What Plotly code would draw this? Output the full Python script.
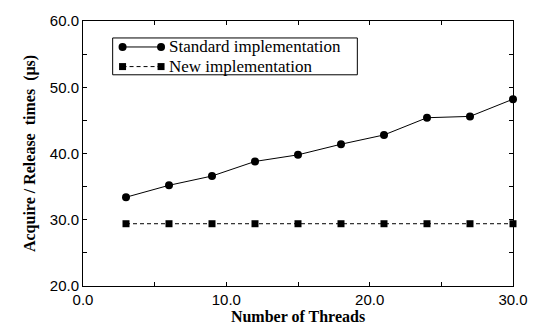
import plotly.graph_objects as go

threads = [3, 6, 9, 12, 15, 18, 21, 24, 27, 30]
standard = [33.4, 35.2, 36.6, 38.8, 39.8, 41.4, 42.8, 45.4, 45.6, 48.2]
new_impl = [29.4, 29.4, 29.4, 29.4, 29.4, 29.4, 29.4, 29.4, 29.4, 29.4]
series_names = ["Standard implementation", "New implementation"]

SERIF = "Liberation Serif, Times New Roman, serif"
SANS = "Liberation Sans, Arial, sans-serif"

fig = go.Figure()
fig.add_trace(go.Scatter(
    x=threads, y=standard, mode="lines+markers", name=series_names[0],
    line=dict(color="black", width=1),
    marker=dict(symbol="circle", size=8, color="black"),
    cliponaxis=False, showlegend=False,
))
fig.add_trace(go.Scatter(
    x=threads, y=new_impl, mode="lines+markers", name=series_names[1],
    line=dict(color="black", width=1, dash="4px,3px"),
    marker=dict(symbol="square", size=7, color="black"),
    cliponaxis=False, showlegend=False,
))

axis_common = dict(
    showline=True, linecolor="black", linewidth=1, mirror="ticks",
    ticks="inside", ticklen=4, tickcolor="black", tickwidth=1,
    showgrid=False, zeroline=False,
    tickfont=dict(family=SANS, size=15, color="black"),
)

fig.update_xaxes(
    range=[0, 30], dtick=10, tickformat=".1f",
    minor=dict(ticks="inside", dtick=5, ticklen=4, tickcolor="black"),
    title=dict(text="<b>Number of Threads</b>", standoff=3,
               font=dict(family=SERIF, size=16, color="black")),
    **axis_common,
)
fig.update_yaxes(
    range=[20, 60], dtick=10, tickformat=".1f",
    minor=dict(ticks="inside", dtick=5, ticklen=4, tickcolor="black"),
    title=dict(text="<b>Acquire / Release  times  (μs)</b>", standoff=10,
               font=dict(family=SERIF, size=16, color="black")),
    **axis_common,
)

# Manual legend (box, sample line with end markers, labels)
box = dict(x0=0.069, x1=0.638, y0=0.797, y1=0.936)
rows_y = [0.902, 0.828]
sym_x = [0.092, 0.1815]
styles = [dict(dash="solid", sym="circle", r=4), dict(dash="4px,3px", sym="square", r=3.5)]
shapes = [dict(type="rect", xref="paper", yref="paper", **box,
               line=dict(color="black", width=1), fillcolor="white", layer="above")]
annotations = []
for name, yy, st in zip(series_names, rows_y, styles):
    shapes.append(dict(type="line", xref="paper", yref="paper",
                       x0=sym_x[0], x1=sym_x[1], y0=yy, y1=yy,
                       line=dict(color="black", width=1, dash=st["dash"]),
                       layer="above"))
    for sx in sym_x:
        shapes.append(dict(type="circle" if st["sym"] == "circle" else "rect",
                           xref="paper", yref="paper",
                           xsizemode="pixel", ysizemode="pixel",
                           xanchor=sx, yanchor=yy,
                           x0=-st["r"], x1=st["r"], y0=-st["r"], y1=st["r"],
                           line=dict(color="black", width=0), fillcolor="black",
                           layer="above"))
    annotations.append(dict(text=name, xref="paper", yref="paper",
                            x=0.197, y=yy, xanchor="left", yanchor="middle",
                            showarrow=False, borderpad=0,
                            font=dict(family=SERIF, size=17, color="black")))

fig.update_layout(
    width=540, height=334,
    margin=dict(l=83, r=18, t=14, b=44),
    paper_bgcolor="white", plot_bgcolor="white",
    shapes=shapes, annotations=annotations,
    showlegend=False,
)

fig.write_html("out.html")
